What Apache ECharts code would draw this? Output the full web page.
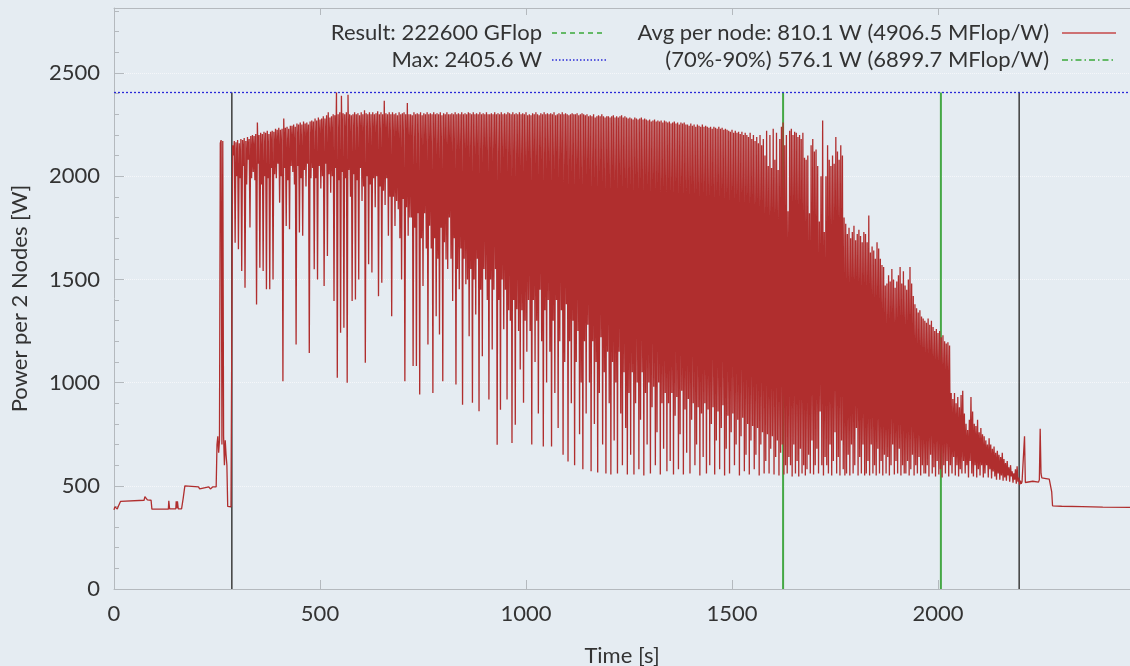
<!DOCTYPE html>
<html>
<head>
<meta charset="utf-8">
<script src="https://cdn.jsdelivr.net/npm/echarts@6/dist/echarts.min.js"></script>
<style>
html, body { margin: 0; padding: 0; background: #e5ecf2; }
#chart { width: 1130px; height: 666px; }
</style>
</head>
<body>
<div id="chart"></div>
<script>
// idle / startup part before the run
const preTime = [0, 2, 4, 6, 8, 10, 12, 14, 16, 18, 73, 75, 77, 79, 81, 90, 92, 132, 133, 135,
  150, 151, 153, 154, 156, 164, 168, 172, 175, 205, 208, 212, 230, 234, 240, 248,
  250, 252, 254, 256, 258, 260, 262, 264, 266, 268, 270, 272, 274, 276, 284, 286];
const prePower = [383, 398, 390, 402, 388, 398, 390, 396, 425, 430, 430, 448, 440, 445, 432, 430, 387, 387, 427, 388,
  388, 425, 392, 425, 388, 388, 440, 500, 497, 495, 485, 493, 495, 485, 495, 495,
  700, 740, 660, 720, 2160, 2175, 700, 2170, 740, 600, 720, 650, 600, 400, 398, 400];

// run part, one sample every runStep seconds from runStart (one line = 48 s)
const runStart = 288;
const runStep = 2;
const runPower = [
  2150,2100,2170,1678,2165,2000,2175,1646,2160,1990,2180,1541,2175,2050,2185,1460,2170,1960,2190,2080,2180,1751,2195,1990,
  2200,2020,2195,1980,2205,1379,2260,2060,2200,1557,2210,1960,2205,1541,2215,2000,2210,1452,2220,1990,2205,1452,2215,2040,
  2220,1500,2215,2010,2230,1990,2225,2060,2235,1872,2225,2000,2230,1007,2280,2040,2235,1759,2240,1980,2230,1743,2245,2050,
  2245,2020,2250,1960,2240,1185,2255,2050,2250,1727,2260,1990,2250,1711,2265,2030,2255,1950,2260,2060,2250,1144,2265,1990,
  2270,2040,2265,1549,2280,1990,2270,1500,2285,2050,2275,1940,2280,2000,2290,1468,2280,2060,2295,1613,2310,2010,2285,1920,
  2290,2000,2300,1395,2295,2040,2405,1023,2300,1980,2310,1241,2390,2020,2305,1266,2300,1990,2310,999,2395,2030,2300,1900,
  2295,1395,2300,2010,2310,1403,2300,1980,2305,1500,2295,2040,2310,1880,2300,1950,2320,1096,2305,2000,2300,1573,2310,1960,
  2300,1533,2310,1990,2300,1850,2305,2000,2315,1419,2300,1950,2310,1484,2300,1930,2365,1860,2305,1990,2300,1711,2310,1900,
  2300,1322,2310,1900,2300,1759,2305,1880,2295,1840,2310,1700,2300,1500,2305,1890,2310,1007,2300,1850,2355,1711,2300,1800,
  2300,1800,2295,1080,2310,1750,2300,1080,2305,1820,2300,942,2310,1700,2295,1468,2305,1820,2300,1650,2310,1185,2300,1760,
  2305,1650,2300,950,2310,1700,2300,1322,2305,1600,2300,1233,2310,1750,2295,1007,2305,1680,2300,1597,2310,1550,2300,1800,
  2300,1600,2305,1395,2300,1700,2310,991,2300,1550,2305,1452,2300,1650,2310,893,2300,1600,2305,1476,2300,1500,2310,1225,
  2305,1550,2300,902,2310,1500,2300,1330,2305,1600,2300,861,2310,1450,2300,1128,2305,1550,2300,1500,2310,1400,2300,918,
  2300,1500,2305,1160,2300,1450,2310,1550,2300,699,2305,1400,2300,869,2310,1500,2300,1258,2305,1450,2300,918,2310,1350,
  2305,1300,2300,707,2310,1400,2300,796,2305,1355,2300,1250,2310,1063,2300,1350,2305,902,2300,1300,2310,1150,2295,1400,
  2300,1250,2295,700,2305,1400,2300,1100,2310,1300,2300,850,2295,1450,2305,1200,2300,690,2310,1350,2300,1000,2305,1400,
  2300,1150,2305,690,2300,1300,2310,950,2295,1400,2300,780,2305,1200,2300,1350,2310,650,2300,1100,2305,1380,2300,618,
  2295,1200,2300,900,2305,1300,2300,600,2300,1100,2305,1250,2295,750,2300,1000,2305,580,2300,1200,2295,850,2300,1280,
  2290,1000,2295,570,2290,1200,2300,800,2285,1100,2290,565,2295,950,2290,1220,2300,700,2290,1050,2285,560,2290,1150,
  2290,900,2285,555,2290,1100,2295,720,2285,1000,2290,560,2285,1150,2290,850,2295,600,2285,1050,2290,780,2285,555,
  2280,950,2285,650,2280,1050,2275,555,2285,900,2280,1000,2275,580,2280,820,2285,1050,2275,550,2280,950,2275,700,
  2270,1000,2275,560,2265,880,2270,980,2275,600,2265,760,2270,1000,2265,555,2270,900,2260,680,2270,950,2265,570,
  2260,900,2265,620,2255,950,2260,555,2265,840,2255,930,2260,580,2250,750,2260,960,2255,555,2260,870,2250,660,
  2250,920,2245,560,2255,820,2245,900,2250,600,2240,700,2250,880,2245,550,2240,850,2250,640,2240,900,2245,560,
  2240,870,2235,600,2240,800,2230,880,2240,555,2235,720,2230,860,2240,580,2230,780,2235,890,2225,550,2230,680,
  2225,840,2220,560,2215,760,2225,850,2210,600,2220,700,2210,820,2215,550,2205,740,2215,830,2200,570,2210,650,
  2200,800,2190,555,2210,720,2180,790,2200,580,2170,650,2190,780,2160,550,2200,700,2150,760,2180,560,2100,620,
  2220,750,2050,560,2200,680,2040,740,2230,555,2080,640,2210,720,2030,550,2180,660,2240,700,2260,555,2150,600,
  2200,560,1830,640,2220,600,2230,545,2200,700,2215,560,2210,620,2190,545,2200,680,2180,560,2210,600,2090,550,
  2080,580,2100,650,1820,560,2150,720,2180,555,2120,600,2130,680,2050,560,1780,860,2000,600,2270,550,1730,640,
  2000,600,2150,560,2080,700,2050,550,2100,620,2060,760,2190,560,2120,640,2080,550,2150,720,2100,580,1800,550,
  1770,560,1720,650,1750,550,1700,700,1730,560,1760,600,1690,780,1720,550,1740,640,1710,560,1680,700,1730,550,
  1720,560,1680,620,1810,550,1630,700,1660,560,1640,600,1600,550,1680,680,1650,560,1600,620,1570,550,1560,650,
  1470,560,1480,640,1520,550,1490,600,1550,700,1500,555,1460,620,1490,560,1520,680,1560,550,1480,600,1540,560,
  1470,560,1450,620,1500,550,1560,580,1480,650,1420,550,1380,600,1360,560,1340,640,1350,550,1320,600,1310,560,
  1300,560,1290,600,1310,545,1280,650,1300,560,1270,590,1250,545,1260,620,1240,555,1250,580,1220,540,1230,600,
  1200,560,1190,620,1195,545,1180,600,950,560,920,640,950,550,900,600,930,545,880,580,940,560,960,620,
  850,560,800,600,770,540,820,620,930,560,860,545,800,600,790,540,820,580,760,550,780,600,750,540,
  740,560,720,600,700,540,730,580,700,535,680,570,690,545,660,530,670,560,650,530,640,550,660,525,
  630,540,610,525,620,550,590,520,600,545,570,515,560,530,580,510,595,520,540,505,525,510,520,512
];

// after the run
const tailTime = [2208, 2210, 2212, 2216, 2230, 2244, 2246, 2248, 2250, 2252, 2262, 2270, 2274, 2276, 2278, 2300, 2350, 2400, 2466];
const tailPower = [515, 740, 516, 520, 522, 518, 530, 776, 560, 538, 535, 532, 525, 470, 403, 401, 399, 397, 395];

const maxPower = 2405.6;
const phaseMarks = [286, 2197];   // black lines
const windowMarks = [1624, 2007]; // green lines (70%-90%)
const xTicks = { min: 0, max: 2466, step: 500 };
const yTicks = { min: 0, max: 2815, step: 500 };

const legendLeft = ['Result: 222600 GFlop', 'Max: 2405.6 W'];
const legendRight = ['Avg per node: 810.1 W (4906.5 MFlop/W)', '(70%-90%) 576.1 W (6899.7 MFlop/W)'];

const trace = [];
preTime.forEach((t, i) => trace.push([t, prePower[i]]));
runPower.forEach((v, i) => trace.push([runStart + i * runStep, v]));
tailTime.forEach((t, i) => trace.push([t, tailPower[i]]));

const font = 'Lato, "DejaVu Sans", sans-serif';
const ink = '#333333';
const axisGray = '#b4b9be';

function markSeries(t, color, width) {
  return {
    type: 'line',
    data: [[t, 0], [t, maxPower]],
    symbol: 'none',
    silent: true,
    z: 1,
    lineStyle: { color: color, width: width }
  };
}

function legendText(str, x, y) {
  return {
    type: 'text', x: x, y: y, silent: true,
    style: { text: str, font: '22px ' + font, fill: ink, align: 'right', verticalAlign: 'middle', textAlign: 'right', textVerticalAlign: 'middle' }
  };
}

function legendLine(x, y, color, dash, width) {
  return {
    type: 'line', silent: true,
    shape: { x1: x, y1: y, x2: x + 54, y2: y },
    style: { stroke: color, lineWidth: width, lineDash: dash }
  };
}

const chart = echarts.init(document.getElementById('chart'));

const option = {
  animation: false,
  backgroundColor: '#e5ecf2',
  grid: { left: 114, top: 8, right: 0, bottom: 77, outerBoundsMode: 'none', containLabel: false },
  xAxis: [
    {
      type: 'value', min: xTicks.min, max: xTicks.max, interval: xTicks.step,
      name: 'Time [s]', nameLocation: 'middle', nameGap: 56,
      nameTextStyle: { fontSize: 22, color: ink, fontFamily: font },
      axisLine: { show: true, lineStyle: { color: axisGray } },
      axisTick: { show: true, inside: true, length: 9, lineStyle: { color: axisGray } },
      axisLabel: { fontSize: 22, color: ink, fontFamily: font, margin: 14, showMaxLabel: false, formatter: v => String(v) },
      splitLine: { show: false }
    },
    {
      type: 'value', position: 'top', min: xTicks.min, max: xTicks.max, interval: xTicks.step,
      axisLine: { show: true, lineStyle: { color: axisGray } },
      axisTick: { show: true, inside: true, length: 7, lineStyle: { color: axisGray } },
      axisLabel: { show: false },
      splitLine: { show: false }
    }
  ],
  yAxis: [
    {
      type: 'value', min: yTicks.min, max: yTicks.max, interval: yTicks.step,
      name: 'Power per 2 Nodes [W]', nameLocation: 'middle', nameGap: 83,
      nameTextStyle: { fontSize: 22, color: ink, fontFamily: font },
      axisLine: { show: true, lineStyle: { color: axisGray } },
      axisTick: { show: true, inside: true, length: 10, lineStyle: { color: axisGray } },
      minorTick: { show: true, splitNumber: 5, length: 5, lineStyle: { color: axisGray } },
      axisLabel: { fontSize: 22, color: ink, fontFamily: font, margin: 14, showMaxLabel: false, formatter: v => String(v) },
      splitLine: { show: true, lineStyle: { color: 'rgba(255,255,255,0.6)', type: 'dotted' } }
    }
  ],
  graphic: [
    legendText(legendLeft[0], 542, 33),
    legendText(legendLeft[1], 542, 60),
    legendText(legendRight[0], 1049, 33),
    legendText(legendRight[1], 1049, 60),
    legendLine(552, 33, '#3aa83a', [5, 4], 1.5),
    legendLine(552, 60, '#2a2ad8', [1.5, 2], 1.5),
    legendLine(1062, 33, '#c44848', null, 1.5),
    legendLine(1062, 60, '#3aa83a', [6, 3, 1.5, 3], 1.5)
  ],
  series: [
    markSeries(phaseMarks[0], '#3c3c3c', 1.5),
    markSeries(phaseMarks[1], '#3c3c3c', 1.5),
    markSeries(windowMarks[0], '#45a845', 2),
    markSeries(windowMarks[1], '#45a845', 2),
    {
      type: 'line',
      data: trace,
      symbol: 'none',
      silent: true,
      z: 3,
      lineStyle: { color: '#b02e2e', width: 1.3 },
      markLine: {
        silent: true,
        symbol: 'none',
        label: { show: false },
        lineStyle: { color: '#2a2ad8', type: [2, 2], width: 1.3 },
        data: [{ yAxis: maxPower }]
      }
    }
  ]
};

chart.setOption(option);
</script>
</body>
</html>
